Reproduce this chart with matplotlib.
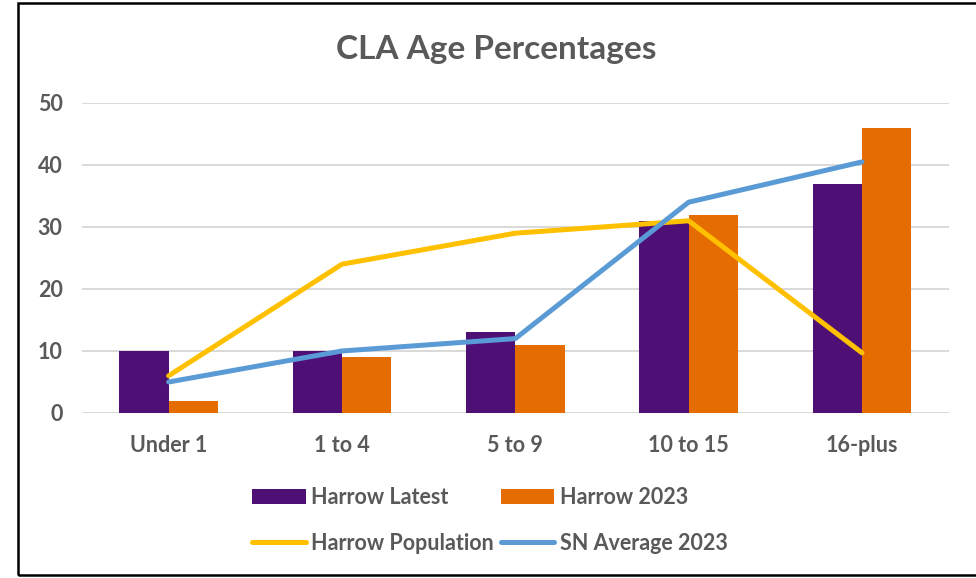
import matplotlib.pyplot as plt
from matplotlib.patches import Rectangle
import numpy as np

categories = ['Under 1', '1 to 4', '5 to 9', '10 to 15', '16-plus']
harrow_latest = [10, 10, 13, 31, 37]
harrow_2023 = [2, 9, 11, 32, 46]
harrow_population = [6, 24, 29, 31, 9.7]
sn_average_2023 = [5, 10, 12, 34, 40.5]

plt.rcParams['font.family'] = ['Lato', 'DejaVu Sans']
grey = '#595959'

fig = plt.figure(figsize=(9.76, 5.78), dpi=100)
ax = fig.add_axes([0.084, 0.2855, 0.888, 0.5363])

x = np.arange(len(categories))
w = 0.285
b1 = ax.bar(x - w / 2, harrow_latest, w, color='#4F1076', label='Harrow Latest', zorder=2)
b2 = ax.bar(x + w / 2, harrow_2023, w, color='#E46C00', label='Harrow 2023', zorder=2)
l1, = ax.plot(x, harrow_population, color='#FFC000', lw=3.6, label='Harrow Population',
              zorder=3, solid_capstyle='round')
l2, = ax.plot(x, sn_average_2023, color='#5B9BD5', lw=3.6, label='SN Average 2023',
              zorder=4, solid_capstyle='round')

ax.set_xlim(-0.5, len(categories) - 0.5)
ax.set_ylim(0, 50)
ax.set_yticks(range(0, 51, 10))
ax.yaxis.grid(True, color='#d9d9d9', lw=1.4, zorder=0)
ax.set_axisbelow(True)
for s in ax.spines.values():
    s.set_visible(False)
ax.tick_params(length=0)
ax.tick_params(axis='y', pad=14)
ax.tick_params(axis='x', pad=16)
ax.set_xticks(x)
ax.set_xticklabels(categories)
for t in ax.get_xticklabels() + ax.get_yticklabels():
    t.set_color(grey)
    t.set_fontsize(15.5)
    t.set_fontweight('bold')

fig.text(0.508, 0.915, 'CLA Age Percentages', ha='center', va='center',
         fontsize=24, fontweight='bold', color=grey)

leg = fig.legend([b1, l1, b2, l2],
                 ['Harrow Latest', 'Harrow Population', 'Harrow 2023', 'SN Average 2023'],
                 ncol=2, loc='center', bbox_to_anchor=(0.502, 0.1), frameon=False,
                 handlelength=2.5, handleheight=0.7, handletextpad=0.25, columnspacing=0.3,
                 labelspacing=1.15, prop={'size': 15.5, 'weight': 'bold'})
for t in leg.get_texts():
    t.set_color(grey)

fig.patches.append(Rectangle((18 / 976, 3 / 578), 1.0, 572 / 578, transform=fig.transFigure,
                             fill=False, edgecolor='black', lw=1.8))

fig.savefig('out.png', dpi=100)
